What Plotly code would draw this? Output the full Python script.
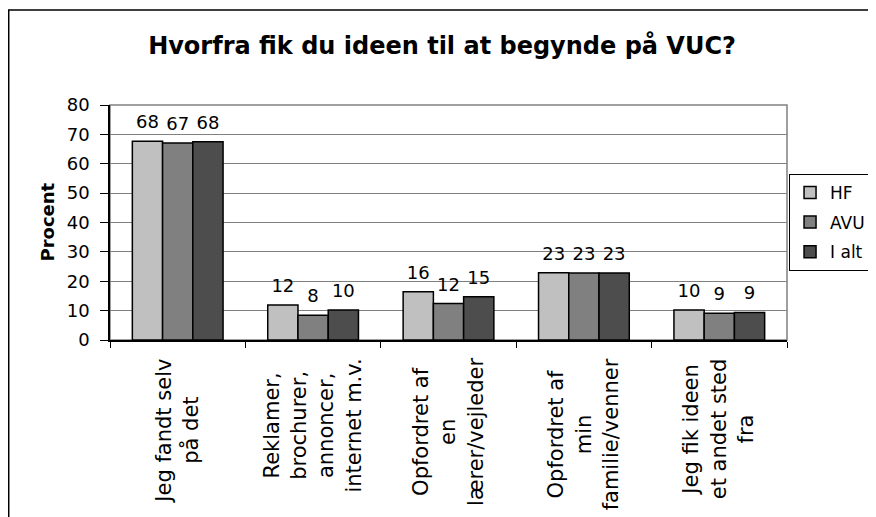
import plotly.graph_objects as go

categories = ["Jeg fandt selv<br>på det",
              "Reklamer,<br>brochurer,<br>annoncer,<br>internet m.v.",
              "Opfordret af<br>en<br>lærer/vejleder",
              "Opfordret af<br>min<br>familie/venner",
              "Jeg fik ideen<br>et andet sted<br>fra"]
series_names = ["HF", "AVU", "I alt"]
hf = [67.7, 11.9, 16.4, 22.9, 10.2]
avu = [67.1, 8.4, 12.4, 22.8, 9.1]
i_alt = [67.5, 10.2, 14.7, 22.8, 9.4]
colors = ["#c0c0c0", "#808080", "#4d4d4d"]

FONT = "DejaVu Sans"
xs = list(range(len(categories)))

fig = go.Figure()
for name, vals, col in zip(series_names, [hf, avu, i_alt], colors):
    fig.add_trace(go.Bar(
        x=xs, y=vals, name=name, offsetgroup=name, legendgroup=name,
        marker=dict(color=col, line=dict(color="#000000", width=1.5)),
    ))
for name, vals in zip(series_names, [hf, avu, i_alt]):
    fig.add_trace(go.Scatter(
        x=xs, y=vals, name=name, offsetgroup=name, legendgroup=name,
        showlegend=False, mode="markers+text",
        marker=dict(size=12, opacity=0),
        text=[f"{v:.0f}" for v in vals], textposition="top center",
        textfont=dict(family=FONT, size=18, color="#000000"),
        cliponaxis=False, hoverinfo="skip",
    ))

annotations = []
for i, c in enumerate(categories):
    annotations.append(dict(
        x=i, xref="x", y=-0.07, yref="paper",
        text=c, textangle=-90, showarrow=False,
        xanchor="center", yanchor="top", align="center",
        font=dict(family=FONT, size=21, color="#000000"),
    ))
annotations.append(dict(
    x=-0.093, xref="paper", y=0.5, yref="paper", text="<b>Procent</b>",
    textangle=-90, showarrow=False, xanchor="center", yanchor="middle",
    font=dict(family=FONT, size=18, color="#000000"),
))

fig.update_layout(
    width=876, height=517,
    margin=dict(l=102, r=97, t=97, b=185, autoexpand=False),
    paper_bgcolor="white", plot_bgcolor="white",
    barmode="group", bargap=0.33, bargroupgap=0,
    scattermode="group", scattergap=0.33,
    title=dict(text="<b>Hvorfra fik du ideen til at begynde på VUC?</b>",
               x=0.4955, xanchor="center", y=0.928, yanchor="middle",
               font=dict(family=FONT, size=24, color="#000000")),
    font=dict(family=FONT, size=18, color="#000000"),
    showlegend=True,
    legend=dict(xref="container", yref="container",
                x=0.8916, xanchor="left", y=0.679, yanchor="top",
                bordercolor="#000000", borderwidth=1, bgcolor="white",
                font=dict(family=FONT, size=17, color="#000000"),
                traceorder="grouped", tracegroupgap=4.5, itemwidth=30),
    annotations=annotations,
    shapes=[
        dict(type="rect", xref="paper", yref="paper", x0=0, x1=1, y0=0, y1=1,
             line=dict(color="#808080", width=1.5), layer="below"),
        dict(type="rect", xref="paper", yref="paper", x0=-0.1496, x1=1.2,
             y0=-0.8, y1=1.404, line=dict(color="#000000", width=1.5)),
    ],
)
fig.update_xaxes(type="linear", range=[-0.5, 4.5], showticklabels=False,
                 showgrid=False, zeroline=False,
                 tickmode="array", tickvals=[-0.5, 0.5, 1.5, 2.5, 3.5, 4.5],
                 ticks="outside", ticklen=6, tickcolor="#000000",
                 showline=True, linecolor="#000000", linewidth=1.5)
fig.update_yaxes(range=[0, 80], dtick=10, showgrid=True, gridcolor="#808080",
                 gridwidth=1, zeroline=False, ticks="outside", ticklen=8,
                 ticklabelstandoff=7,
                 tickcolor="#000000", showline=True, linecolor="#000000",
                 linewidth=1.5, tickfont=dict(family=FONT, size=18, color="#000000"))

fig.write_html("out.html")
